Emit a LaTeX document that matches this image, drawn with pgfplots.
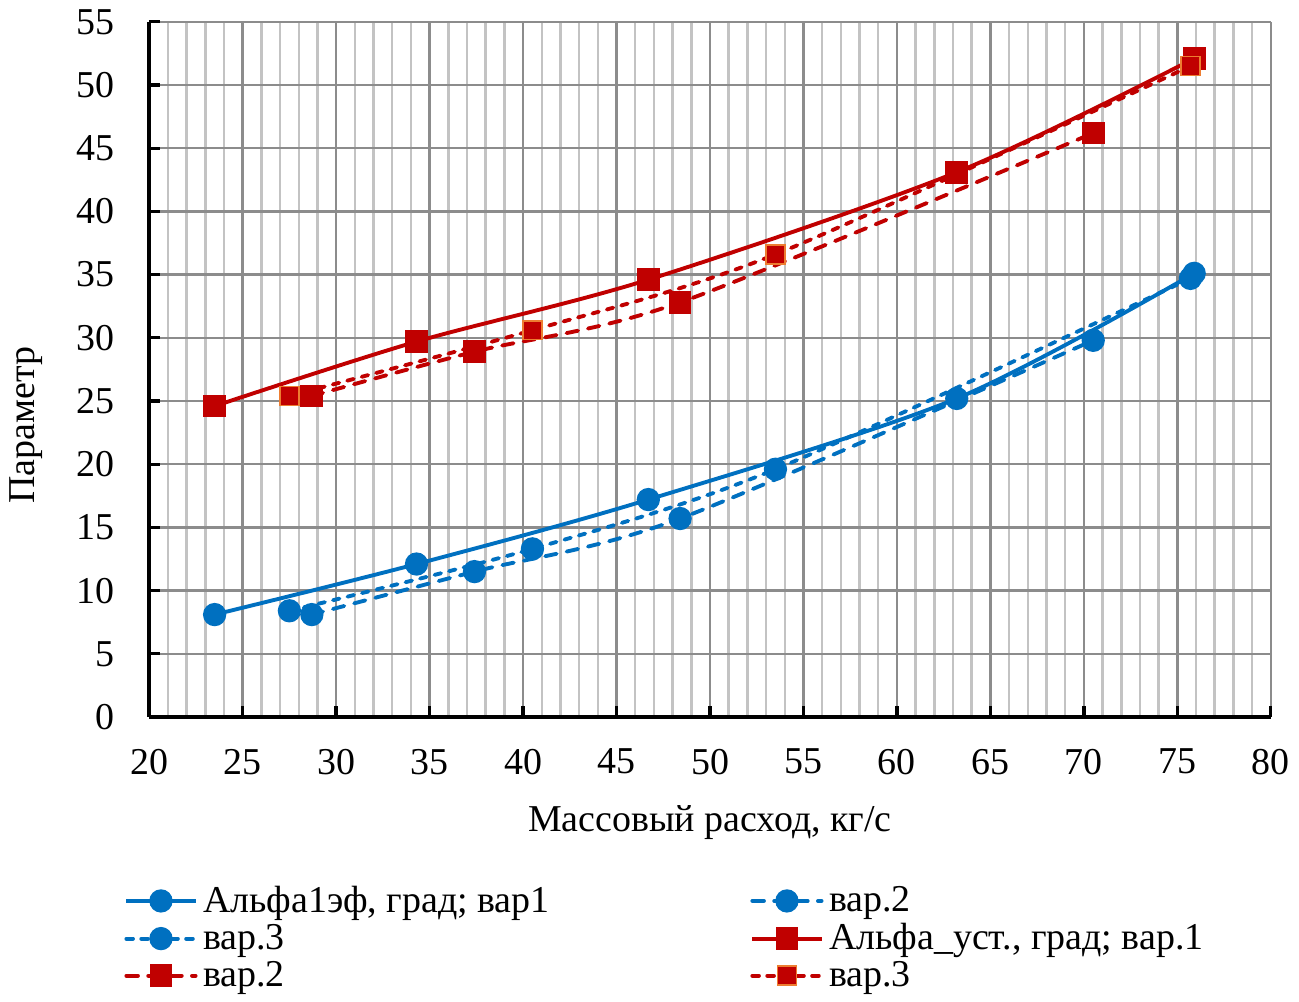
\documentclass[border=0pt]{standalone}
\usepackage{fontspec}
\setmainfont{Liberation Serif}
\usepackage{pgfplots}
\pgfplotsset{compat=1.18}
\definecolor{xlblue}{HTML}{0070C0}
\definecolor{xlred}{HTML}{C00000}
\definecolor{xlorange}{HTML}{ED7D31}
\definecolor{gridmaj}{HTML}{8C8C8C}
\definecolor{gridmin}{HTML}{C3C3C3}
\newcommand\chartfont{\fontsize{13.7}{15}\selectfont}

\begin{document}
\begin{tikzpicture}
\begin{axis}[
  scale only axis, width=405pt, height=251pt,
  xmin=20, xmax=80, ymin=0, ymax=55,
  xtick distance=5, ytick distance=5,
  minor x tick num=4,
  axis x line=bottom, axis y line=left,
  axis line style={-, black, line width=1.4pt},
  tick align=inside, major tick length=4pt, minor tick length=0pt,
  tick style={black, line width=1.2pt},
  grid=both,
  major grid style={gridmaj, line width=0.9pt},
  minor grid style={gridmin, line width=0.9pt},
  /pgf/number format/assume math mode=true,
  tick label style={font=\chartfont},
  xticklabel style={yshift=-8pt},
  yticklabel style={xshift=-9pt},
  xlabel={Массовый расход, кг/с},
  ylabel={Параметр},
  every axis x label/.style={at={(rel axis cs:0.5,0)}, anchor=center, yshift=-38pt, font=\chartfont},
  every axis y label/.style={at={(rel axis cs:0,0.42)}, anchor=center, rotate=90, yshift=44.6pt, font=\chartfont},
  legend columns=2,
  legend cell align=left,
  legend style={at={(-0.030,-0.226)}, anchor=north west, draw=none, fill=none,
    font=\chartfont, row sep=-1.4pt,
    /tikz/every even column/.append style={column sep=70.5pt}},
  legend image code/.code={\draw[mark repeat=2,mark phase=2] plot coordinates {(0pt,0pt) (12.5pt,0pt) (25pt,0pt)};},
  every axis plot/.append style={line width=1.4pt, smooth},
]
% blue
\addplot[xlblue, mark=*, mark size=3.5pt, mark options={solid}] coordinates {
 (23.5,8.1) (34.3,12.1) (46.7,17.2) (63.2,25.2) (75.9,35.1)};
\addlegendentry{Альфа1эф, град; вар1}
\addplot[xlblue, line cap=round, dash pattern=on 4.2pt off 3.7pt, mark=*, mark size=3.5pt, mark options={solid}] coordinates {
 (28.7,8.1) (37.4,11.5) (48.4,15.7) (70.5,29.8)};
\addlegendentry{вар.2}
\addplot[xlblue, line cap=round, dash pattern=on 2.4pt off 3pt, mark=*, mark size=3.5pt, mark options={solid}] coordinates {
 (27.5,8.4) (40.5,13.3) (53.5,19.6) (75.7,34.7)};
\addlegendentry{вар.3}
% red
\addplot[xlred, mark=square*, mark size=3.4pt, mark options={solid}] coordinates {
 (23.5,24.6) (34.3,29.7) (46.7,34.6) (63.2,43.1) (75.9,52.1)};
\addlegendentry{Альфа\_уст., град; вар.1}
\addplot[xlred, line cap=round, dash pattern=on 4.2pt off 3.7pt, mark=square*, mark size=3.4pt, mark options={solid}] coordinates {
 (28.7,25.4) (37.4,28.9) (48.4,32.8) (70.5,46.2)};
\addlegendentry{вар.2}
\addplot[xlred, line cap=round, dash pattern=on 2.4pt off 3pt, mark=square*, mark size=3.4pt, mark options={solid, draw=xlorange, fill=xlred, line width=0.6pt}] coordinates {
 (27.5,25.4) (40.5,30.6) (53.5,36.6) (75.7,51.5)};
\addlegendentry{вар.3}
\end{axis}
\end{tikzpicture}
\end{document}
